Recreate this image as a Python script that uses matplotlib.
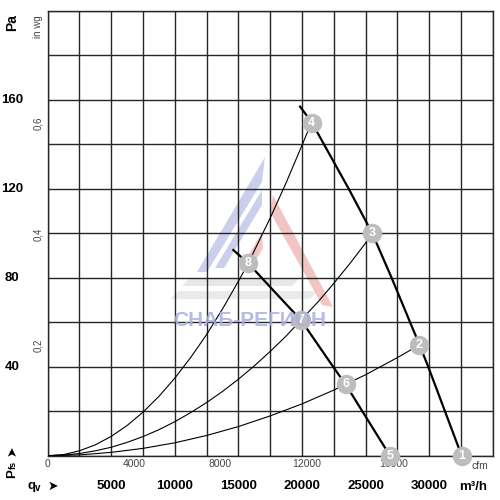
import matplotlib
matplotlib.use('Agg')
import matplotlib.pyplot as plt
import matplotlib.transforms as mtrans
from matplotlib.patches import Polygon

plt.rcParams['font.family'] = ['Liberation Sans', 'DejaVu Sans']

#### data (q in m3/h, p in Pa)

# fan curves
fan_hi_q = [19850, 20760, 23680, 25530, 27050, 29230, 29930, 32560]
fan_hi_p = [157, 150, 120, 100, 80, 50, 40, 0]
fan_lo_q = [14600, 15780, 17800, 19920, 22450, 23440, 26920]
fan_lo_p = [92.5, 86.5, 74, 61, 40, 32, 0]

# system curves
sys_a_q = [0, 1250, 2500, 3750, 5000, 6250, 7500, 8750, 10000, 11250, 12500, 13750,
           15000, 15780, 16250, 17500, 18750, 20000, 20760]
sys_a_p = [0, 0.5, 2.2, 4.9, 8.7, 13.6, 19.6, 26.7, 34.9, 44.2, 54.5, 66.0,
           78.5, 86.5, 92.2, 106.9, 122.7, 139.6, 150]
sys_b_q = [0, 1250, 2500, 3750, 5000, 6250, 7500, 8750, 10000, 11250, 12500, 13750,
           15000, 16250, 17500, 18750, 19920, 21250, 22500, 23750, 25000, 25530]
sys_b_p = [0, 0.24, 1.0, 2.2, 3.8, 6.0, 8.6, 11.7, 15.3, 19.4, 23.9, 28.9,
           34.4, 40.4, 46.9, 53.8, 61, 69.1, 77.5, 86.3, 95.6, 100]
sys_c_q = [0, 2500, 5000, 7500, 10000, 12500, 15000, 17500, 20000, 22500, 23440,
           25000, 27500, 29230]
sys_c_p = [0, 0.36, 1.5, 3.3, 5.8, 9.1, 13.1, 17.9, 23.3, 29.5, 32.1,
           36.4, 44.1, 49.8]

# operating points
op_num = ['1', '2', '3', '4', '5', '6', '7', '8']
op_q = [32560, 29230, 25530, 20760, 26920, 23440, 19920, 15780]
op_p = [0, 49.8, 100, 149.8, 0, 32.1, 61, 86.5]

# axis labels
pa_ticks = [40, 80, 120, 160]
inwg_ticks = [0.2, 0.4, 0.6]
cfm_ticks = [0, 4000, 8000, 12000, 16000]
m3h_ticks = [5000, 10000, 15000, 20000, 25000, 30000]

fig = plt.figure(figsize=(5, 5), dpi=100)
ax = fig.add_axes([0.0954, 0.0886, 0.89, 0.8894])
ax.set_xlim(0, 35000)
ax.set_ylim(0, 200)
ax.set_xticks(range(0, 35001, 2500))
ax.set_yticks(range(0, 201, 20))
ax.grid(True, color='#262626', lw=1.0)
ax.tick_params(length=0, labelbottom=False, labelleft=False)
for s in ax.spines.values():
    s.set_color('#262626')
    s.set_linewidth(1.0)

##### watermark (logo + text)
def fp(x, y):
    return (x / 500, 1 - y / 500)

wm = [
    ([(265, 157), (197, 272), (207, 272), (262, 182)], '#8088d0'),
    ([(262, 190), (215, 268), (224, 268), (262, 205)], '#8088d0'),
    ([(273, 195), (333, 307), (322, 305), (270, 212)], '#e07070'),
    ([(262, 232), (240, 270), (250, 270), (263, 248)], '#e07070'),
    ([(190, 278), (300, 278), (292, 286), (182, 286)], '#c4c4c4'),
    ([(178, 291), (318, 291), (310, 299), (170, 299)], '#cccccc'),
]
for pts, c in wm:
    ax.add_patch(Polygon([fp(*p) for p in pts], closed=True, transform=fig.transFigure,
                         facecolor=c, edgecolor='none', alpha=0.4, zorder=1))
fig.text(250 / 500, 1 - 320 / 500, 'СНАБ-РЕГИОН', color='#a9aee0', fontsize=15,
         fontweight='bold', ha='center', va='center', alpha=0.85, zorder=1)

#### curves
ax.plot(sys_a_q, sys_a_p, color='black', lw=0.8, zorder=3)
ax.plot(sys_b_q, sys_b_p, color='black', lw=0.8, zorder=3)
ax.plot(sys_c_q, sys_c_p, color='black', lw=0.8, zorder=3)
ax.plot(fan_hi_q, fan_hi_p, color='black', lw=1.6, zorder=3)
ax.plot(fan_lo_q, fan_lo_p, color='black', lw=1.6, zorder=3)

ax.plot(op_q, op_p, 'o', ms=14, color='#bdbdbd', mec='none', clip_on=False, zorder=5)
for n, q, p in zip(op_num, op_q, op_p):
    ax.text(q, p, n, color='white', fontsize=9, fontweight='bold',
            ha='center', va='center', zorder=6, clip_on=False)

#### axis texts
tr_pa = mtrans.blended_transform_factory(fig.transFigure, ax.transData)
for v in pa_ticks:
    ax.text(12 / 500, v, str(v), transform=tr_pa, fontsize=9.5, fontweight='bold',
            ha='center', va='center')
for v in inwg_ticks:
    ax.text(38 / 500, v * 249.09, ('%.1f' % v).replace('.', ','), transform=tr_pa,
            fontsize=7, color='#444444', rotation=90, ha='center', va='center')
fig.text(12 / 500, 1 - 23 / 500, 'Pa', fontsize=10, fontweight='bold', rotation=90,
         ha='center', va='center')
fig.text(38 / 500, 1 - 27 / 500, 'in wg', fontsize=7, color='#444444', rotation=90,
         ha='center', va='center')

tr_x = ax.get_xaxis_transform()
for v in cfm_ticks:
    ax.text(v * 1.699, -0.0193, str(v), transform=tr_x, fontsize=7.5, color='#444444',
            ha='center', va='center')
ax.text(480 / 500, 1 - 466 / 500, 'cfm', transform=fig.transFigure, fontsize=7.5,
        color='#444444', ha='center', va='center')
for v in m3h_ticks:
    ax.text(v, -0.069, str(v), transform=tr_x, fontsize=9.5, fontweight='bold',
            ha='center', va='center')
fig.text(473 / 500, 1 - 486.5 / 500, 'm³/h', fontsize=9.5, fontweight='bold',
         ha='center', va='center')

fig.text(28 / 500, 1 - 486.5 / 500, 'q', fontsize=9.5, fontweight='bold', ha='left', va='center')
fig.text(35 / 500, 1 - 488 / 500, 'v', fontsize=7, fontweight='bold', ha='left', va='center')
fig.text(53 / 500, 1 - 486.5 / 500, '➤', fontsize=9, ha='center', va='center',
         family=['DejaVu Sans'])
fig.text(12 / 500, 1 - 474 / 500, 'P', fontsize=9.5, fontweight='bold', rotation=90,
         ha='center', va='center')
fig.text(13.5 / 500, 1 - 465 / 500, 'fs', fontsize=6.5, fontweight='bold', rotation=90,
         ha='center', va='center')
fig.text(12 / 500, 1 - 451 / 500, '➤', fontsize=9, rotation=90, ha='center', va='center',
         family=['DejaVu Sans'])

fig.savefig('out.png', dpi=100)
